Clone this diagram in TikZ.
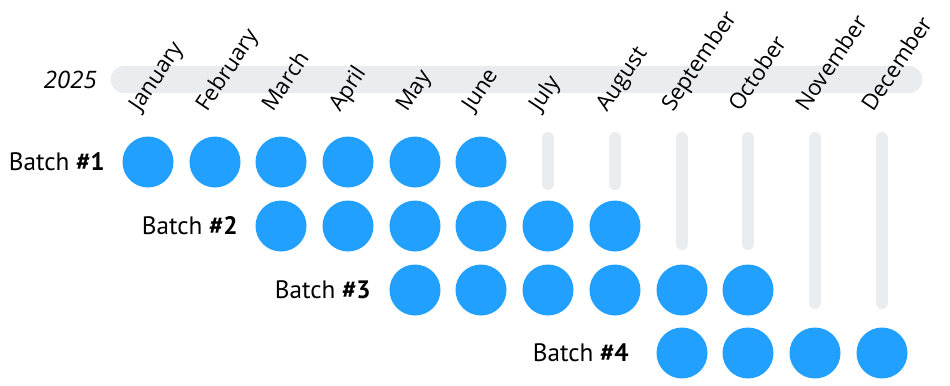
\documentclass[tikz,border=0pt]{standalone}
\usepackage{fontspec}
\setmainfont{Open Sans}
\newfontfamily\batchfont{PT Sans}
\definecolor{dotblue}{HTML}{22A0FF}
\definecolor{trackgray}{HTML}{EAEDF0}

\begin{document}
\begin{tikzpicture}[x=0.03cm,y=-0.03cm,font=\fontsize{19pt}{23pt}\selectfont]
        \useasboundingbox (0,0) rectangle (950,385);

        % year bar
        \coordinate (ys) at (124,79.5);
        \coordinate (ye) at (909,79.5);
        \draw[trackgray,line width=0.81cm,line cap=round] (ys) -- (ye);
        \node[anchor=east,inner sep=0,font=\fontsize{20.5pt}{24pt}\selectfont\itshape] (year) at (97,79.5) {2025};

        \begin{scope}[every node/.style={rotate=56,anchor=base west,inner sep=0}]
          \node (jan) at (140,113) {January};
          \node (feb) at (207,113) {February};
          \node (mar) at (273,113) {March};
          \node (apr) at (340,113) {April};
          \node (may) at (407,113) {May};
          \node (jun) at (473,113) {June};
          \node (jul) at (540,113) {July};
          \node (aug) at (607,113) {August};
          \node (sep) at (673,113) {September};
          \node (oct) at (740,113) {October};
          \node (nov) at (807,113) {November};
          \node (dec) at (873,113) {December};
        \end{scope}

        % empty months
        \begin{scope}[every path/.style={draw=trackgray,line width=0.36cm,line cap=round}]
          \coordinate (jult) at (548,138);  \coordinate (julb) at (548,184);
          \coordinate (augt) at (615,138);  \coordinate (augb) at (615,184);
          \coordinate (sept) at (682,138);  \coordinate (sepb) at (682,244);
          \coordinate (octt) at (748,138);  \coordinate (octb) at (748,244);
          \coordinate (novt) at (815,138);  \coordinate (novb) at (815,303);
          \coordinate (dect) at (882,138);  \coordinate (decb) at (882,303);
          \path (jult) -- (julb);
          \path (augt) -- (augb);
          \path (sept) -- (sepb);
          \path (octt) -- (octb);
          \path (novt) -- (novb);
          \path (dect) -- (decb);
        \end{scope}

        \begin{scope}[every node/.style={circle,fill=dotblue,minimum size=1.53cm,inner sep=0}]
          \node (b1jan) at (148,162) {};
          \node (b1feb) at (215,162) {};
          \node (b1mar) at (281,162) {};
          \node (b1apr) at (348,162) {};
          \node (b1may) at (415,162) {};
          \node (b1jun) at (481,162) {};

          \node (b2mar) at (281,226) {};
          \node (b2apr) at (348,226) {};
          \node (b2may) at (415,226) {};
          \node (b2jun) at (481,226) {};
          \node (b2jul) at (548,226) {};
          \node (b2aug) at (615,226) {};

          \node (b3may) at (415,290) {};
          \node (b3jun) at (481,290) {};
          \node (b3jul) at (548,290) {};
          \node (b3aug) at (615,290) {};
          \node (b3sep) at (682,290) {};
          \node (b3oct) at (748,290) {};

          \node (b4sep) at (682,353) {};
          \node (b4oct) at (748,353) {};
          \node (b4nov) at (815,353) {};
          \node (b4dec) at (882,353) {};
        \end{scope}

        \begin{scope}[every node/.style={anchor=east,inner sep=0,font=\fontsize{21.5pt}{25pt}\selectfont\batchfont}]
          \node (batch1) at (105,162) {Batch \textbf{\#1}};
          \node (batch2) at (238,226) {Batch \textbf{\#2}};
          \node (batch3) at (371,290) {Batch \textbf{\#3}};
          \node (batch4) at (629,353) {Batch \textbf{\#4}};
        \end{scope}

      \end{tikzpicture}
\end{document}
